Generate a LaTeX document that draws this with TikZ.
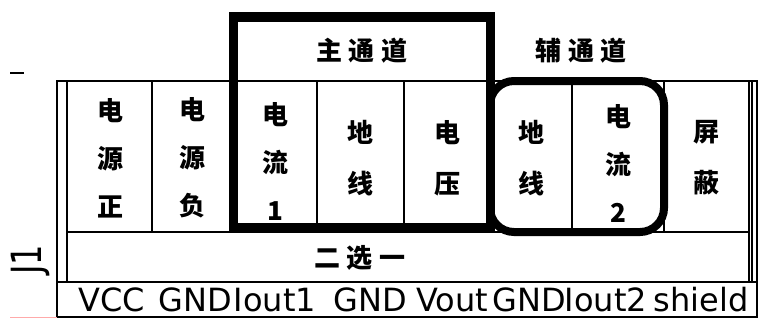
\documentclass[tikz,border=0pt]{standalone}
\usepackage{fontspec}
\setmainfont{DejaVu Sans}
\newfontfamily\cjk{Noto Sans CJK SC}
\usetikzlibrary{positioning}
\definecolor{pinkline}{RGB}{255,170,170}

\begin{document}
\begin{tikzpicture}[x=1pt, y=-1pt, line width=1.3pt,
	zh/.style={font=\cjk\bfseries\fontsize{26}{48}\selectfont, align=center, inner sep=0pt},
	zhwide/.style={zh, font=\cjk\bfseries\fontsize{26}{51}\selectfont},
	pinlbl/.style={font=\fontsize{32}{32}\selectfont, anchor=base, inner sep=0pt},
	chanbox/.style={line width=9.5pt},
	auxbox/.style={line width=8pt, rounded corners=24pt}]
	\useasboundingbox (0,0) rectangle (760,322);
	% frame of the connector
	\draw (57,81) rectangle (757,317); \draw (67,81) rectangle (749,282);
	\draw (752,81) -- (752,282); \draw (57,282) -- (757,282);
	\draw (67,232) -- (749,232);
	\foreach \x in {152,233,317,404,490,572,664} \draw (\x,81) -- (\x,232);
	\draw (10,73) -- (24,73); \draw[pinkline, line width=1pt] (10,317) -- (57,317);
	% channels
	\draw[chanbox] (233.5,17) rectangle (490.5,227.5);
	\draw[auxbox] (490,81) rectangle (664,232);
	\node[zh] (main) at (362,51) {主\hspace{7pt}通\hspace{7pt}道};
	\node[zh] (aux) at (581,51) {辅\hspace{7pt}通\hspace{7pt}道};
	% cells
	\node[zh] (vpos) at (110,158) {电\\源\\正};
	\node[zh] (vneg) at (192,158) {电\\源\\负};
	\node[zh] (cur1) at (275,161) {电\\流\\1};
	\node[zhwide] (gnd1) at (360,158) {地\\线};
	\node[zhwide] (vout) at (447,158) {电\\压};
	\node[zhwide] (gnd2) at (531,158) {地\\线};
	\node[zh] (cur2) at (618,163) {电\\流\\2};
	\node[zhwide] (shld) at (706,158) {屏\\蔽};
	\node[zh] (sel) at (360,258) {二\hspace{7pt}选\hspace{7pt}一};
	% pins
	\node[pinlbl] (p1) at (112,311) {VCC}; \node[pinlbl] (p2) at (195,311) {GND};
	\node[pinlbl] (p3) at (275,311) {Iout1}; \node[pinlbl] (p4) at (370,311) {GND};
	\node[pinlbl] (p5) at (452,311) {Vout}; \node[pinlbl] (p6) at (529,311) {GND};
	\node[pinlbl] (p7) at (606,311) {Iout2}; \node[pinlbl] (p8) at (701,311) {shield};
	\node[font=\fontsize{32}{32}\selectfont, rotate=90, inner sep=0pt] (ref) at (31,260) {\scalebox{1}[1.3]{J1}};
\end{tikzpicture}
\end{document}
